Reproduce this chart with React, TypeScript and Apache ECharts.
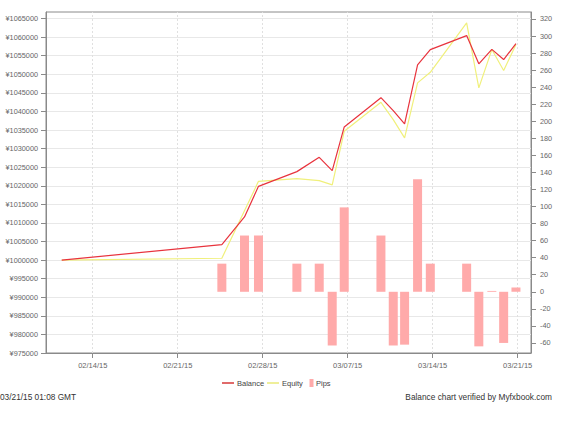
import { useEffect, useRef } from 'react';
import * as echarts from 'echarts';

// Trade close times (UTC)
const times = [
  '2015-02-11 10:40',
  '2015-02-24 15:15',
  '2015-02-26 12:00',
  '2015-02-27 15:40',
  '2015-03-02 19:35',
  '2015-03-04 15:45',
  '2015-03-05 17:25',
  '2015-03-06 17:10',
  '2015-03-09 17:45',
  '2015-03-10 18:05',
  '2015-03-11 16:30',
  '2015-03-12 18:10',
  '2015-03-13 19:20',
  '2015-03-16 19:10',
  '2015-03-17 19:15',
  '2015-03-18 21:00',
  '2015-03-19 20:20',
  '2015-03-20 20:40',
];
const balance = [
  1000000, 1004150, 1011600, 1019840, 1023800, 1027650, 1024070, 1035830, 1043700,
  1040200, 1036640, 1052500, 1056640, 1060400, 1052800, 1056700, 1053950, 1058250,
];
const equity = [
  1000000, 1000500, 1013300, 1021190, 1021900, 1021370, 1020220, 1034650, 1042450,
  1037800, 1032870, 1047680, 1050530, 1063830, 1046330, 1056640, 1050990, 1058000,
];
const pips: (number | null)[] = [
  null, 33, 66, 66, 33, 33, -63, 99, 66, -63, -62, 132, 33, 33, -64, 1, -60, 5,
];
const weekTicks = ['2015-02-14', '2015-02-21', '2015-02-28', '2015-03-07', '2015-03-14', '2015-03-21'];
const leftTicks = [
  975000, 980000, 985000, 990000, 995000, 1000000, 1005000, 1010000, 1015000, 1020000,
  1025000, 1030000, 1035000, 1040000, 1045000, 1050000, 1055000, 1060000, 1065000,
];
const rightTicks = [-60, -40, -20, 0, 20, 40, 60, 80, 100, 120, 140, 160, 180, 200, 220, 240, 260, 280, 300, 320];

const BASE = Date.UTC(2015, 1, 14);
function toDays(s: string): number {
  const [d, t = '00:00'] = s.split(' ');
  const [y, m, dd] = d.split('-').map(Number);
  const [hh, mm] = t.split(':').map(Number);
  return (Date.UTC(y, m - 1, dd, hh, mm) - BASE) / 86400000;
}
function fmtDate(days: number): string {
  const d = new Date(BASE + Math.round(days * 86400000));
  const p = (n: number) => (n < 10 ? '0' + n : '' + n);
  return p(d.getUTCMonth() + 1) + '/' + p(d.getUTCDate()) + '/' + p(d.getUTCFullYear() % 100);
}

const FONT = 'Liberation Sans, Arial, sans-serif';
const LABEL = '#666';
const FRAME = '#8a8a8a';

export default function App() {
  const ref = useRef<HTMLDivElement>(null);
  useEffect(() => {
    if (!ref.current) return;
    const chart = echarts.init(ref.current, undefined, { renderer: 'svg' });
    const xs = times.map(toDays);
    const weekDays = weekTicks.map(toDays);
    const balData = xs.map((x, i) => [x, balance[i]]);
    const eqData = xs.map((x, i) => [x, equity[i]]);
    const pipData = xs
      .map((x, i) => [x, pips[i]])
      .filter((p) => p[1] !== null);

    chart.setOption({
      animation: false,
      backgroundColor: '#fff',
      grid: {
        left: 46,
        top: 12,
        right: 36,
        bottom: 73,
        containLabel: false,
        outerBoundsMode: 'none',
        show: true,
        borderColor: FRAME,
        borderWidth: 1,
      },
      xAxis: {
        type: 'value',
        min: -3.85,
        max: 36.1,
        axisLine: { show: true, onZero: false, lineStyle: { color: FRAME } },
        axisTick: { show: true, length: 5, lineStyle: { color: FRAME }, customValues: weekDays },
        axisLabel: {
          customValues: weekDays,
          formatter: (v: number) => fmtDate(v),
          color: LABEL,
          fontFamily: FONT,
          fontSize: 7.5,
          margin: 8,
        },
        splitLine: { show: false },
      },
      yAxis: [
        {
          type: 'value',
          position: 'left',
          min: 975000,
          max: 1066750,
          interval: 5000,
          axisLine: { show: true, onZero: false, lineStyle: { color: FRAME } },
          axisTick: { show: true, length: 5, lineStyle: { color: FRAME }, customValues: leftTicks },
          axisLabel: {
            customValues: leftTicks,
            formatter: (v: number) => '¥' + v,
            color: LABEL,
            fontFamily: FONT,
            fontSize: 7.3,
            margin: 8,
          },
          splitLine: { show: true, lineStyle: { color: '#e8e8e8', width: 1 } },
        },
        {
          type: 'value',
          position: 'right',
          min: -71.8,
          max: 328.2,
          axisLine: { show: true, onZero: false, lineStyle: { color: FRAME } },
          axisTick: { show: true, length: 5, lineStyle: { color: FRAME }, customValues: rightTicks },
          axisLabel: {
            customValues: rightTicks,
            color: LABEL,
            fontFamily: FONT,
            fontSize: 7.3,
            margin: 9,
          },
          splitLine: { show: false },
        },
      ],
      series: [
        {
          name: 'Pips',
          type: 'bar',
          yAxisIndex: 1,
          data: pipData,
          barWidth: 9,
          itemStyle: { color: '#ffaaaa' },
          z: 2,
          markLine: {
            silent: true,
            symbol: ['none', 'none'],
            label: { show: false },
            lineStyle: { color: '#e0e0e0', type: [2, 2], width: 1 },
            emphasis: { disabled: true },
            data: weekDays.map((d) => ({ xAxis: d })),
            z: 1,
          },
        },
        {
          name: 'Equity',
          type: 'line',
          data: eqData,
          symbol: 'none',
          lineStyle: { color: '#f0f07c', width: 1.2 },
          itemStyle: { color: '#f0f07c' },
          z: 3,
        },
        {
          name: 'Balance',
          type: 'line',
          data: balData,
          symbol: 'none',
          lineStyle: { color: '#e8333d', width: 1.2 },
          itemStyle: { color: '#e8333d' },
          z: 4,
        },
      ],
      graphic: [
        { type: 'line', shape: { x1: 222, y1: 383, x2: 234, y2: 383 }, style: { stroke: '#e06a6a', lineWidth: 2 } },
        { type: 'text', x: 237, y: 383, style: { text: 'Balance', font: `7.5px ${FONT}`, fill: '#444', verticalAlign: 'middle' } },
        { type: 'line', shape: { x1: 267, y1: 383, x2: 279, y2: 383 }, style: { stroke: '#efef9a', lineWidth: 2 } },
        { type: 'text', x: 282, y: 383, style: { text: 'Equity', font: `7.5px ${FONT}`, fill: '#444', verticalAlign: 'middle' } },
        { type: 'rect', shape: { x: 309.5, y: 379, width: 4, height: 8 }, style: { fill: '#ffaaaa' } },
        { type: 'text', x: 316, y: 383, style: { text: 'Pips', font: `7.5px ${FONT}`, fill: '#444', verticalAlign: 'middle' } },
        { type: 'text', x: 0, y: 397, style: { text: '03/21/15 01:08 GMT', font: `8.3px ${FONT}`, fill: '#333', verticalAlign: 'middle' } },
        { type: 'text', x: 552, y: 397, style: { text: 'Balance chart verified by Myfxbook.com', font: `8.3px ${FONT}`, fill: '#333', align: 'right', verticalAlign: 'middle' } },
      ],
    });
    return () => chart.dispose();
  }, []);
  return (
    <div
      ref={ref}
      style={{ position: 'fixed', left: 0, top: 0, width: 567, height: 426 }}
    />
  );
}
